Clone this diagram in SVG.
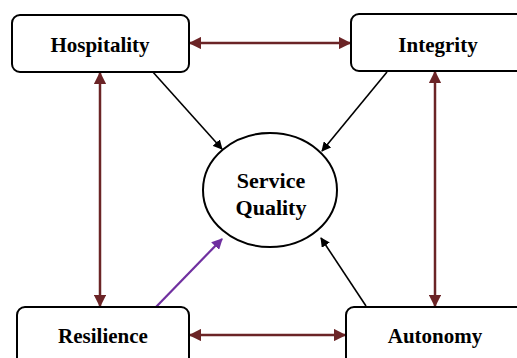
<svg xmlns="http://www.w3.org/2000/svg" width="517" height="358" viewBox="0 0 517 358">
  <style>
    .box { fill: #ffffff; stroke: #000000; stroke-width: 2; }
    .label { font-family: "Liberation Serif", "Times New Roman", serif; font-weight: bold; font-size: 21px; fill: #000000; text-anchor: middle; }
    .center { font-size: 22px; }
    .link { fill: none; stroke: #6B2426; stroke-width: 2.5; marker-start: url(#headRed); marker-end: url(#headRed); }
    .feed { fill: none; stroke: #000000; stroke-width: 1.6; marker-end: url(#headBlack); }
    .feedPurple { fill: none; stroke: #7030A0; stroke-width: 2.2; marker-end: url(#headPurple); }
  </style>
  <defs>
    <marker id="headRed" viewBox="0 0 10 10" refX="9" refY="5" markerWidth="5" markerHeight="5" orient="auto-start-reverse" markerUnits="strokeWidth">
      <path d="M0,0 L10,5 L0,10 Z" fill="#6B2426"/>
    </marker>
    <marker id="headBlack" viewBox="0 0 10 10" refX="9" refY="5" markerWidth="6" markerHeight="6" orient="auto" markerUnits="strokeWidth">
      <path d="M0,0 L10,5 L0,10 Z" fill="#000000"/>
    </marker>
    <marker id="headPurple" viewBox="0 0 10 10" refX="9" refY="5" markerWidth="5" markerHeight="5" orient="auto" markerUnits="strokeWidth">
      <path d="M0,0 L10,5 L0,10 Z" fill="#7030A0"/>
    </marker>
  </defs>

  <rect width="517" height="358" fill="#ffffff"/>

  <g id="connectors">
    <line class="link" x1="190" y1="43" x2="350" y2="43"/>
    <line class="link" x1="190" y1="335" x2="345" y2="335"/>
    <line class="link" x1="100" y1="73" x2="100" y2="306"/>
    <line class="link" x1="435" y1="72" x2="435" y2="306"/>
    <line class="feed" x1="152" y1="71" x2="222" y2="149"/>
    <line class="feed" x1="387" y1="72" x2="322" y2="151"/>
    <line class="feed" x1="366" y1="306" x2="321" y2="238"/>
    <line class="feedPurple" x1="156" y1="307" x2="222" y2="239"/>
  </g>

  <g id="hospitality">
    <rect class="box" x="12" y="15" width="177" height="57" rx="8"/>
    <text class="label" x="100" y="52">Hospitality</text>
  </g>

  <g id="integrity">
    <rect class="box" x="351" y="14" width="190" height="57" rx="8"/>
    <text class="label" x="438" y="52">Integrity</text>
  </g>

  <g id="resilience">
    <rect class="box" x="17" y="307" width="172" height="62" rx="8"/>
    <text class="label" x="103" y="343">Resilience</text>
  </g>

  <g id="autonomy">
    <rect class="box" x="346" y="307" width="190" height="62" rx="8"/>
    <text class="label" x="435" y="343">Autonomy</text>
  </g>

  <g id="service-quality">
    <ellipse class="box" cx="270" cy="190" rx="67" ry="57"/>
    <text class="label center" x="271" y="188">Service</text>
    <text class="label center" x="271" y="215">Quality</text>
  </g>
</svg>
